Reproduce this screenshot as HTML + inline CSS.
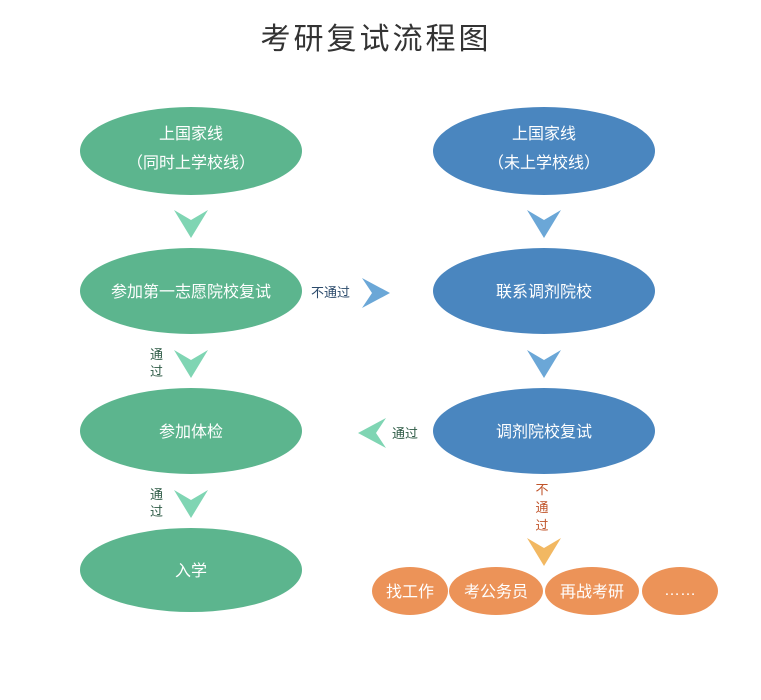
<!DOCTYPE html>
<html><head><meta charset="utf-8"><style>
body{margin:0;background:#fff;width:761px;height:695px;overflow:hidden}
svg text{font-family:"Liberation Sans","Noto Sans CJK SC",sans-serif}
</style></head><body>
<svg width="761" height="695" viewBox="0 0 761 695">
<text x="376" y="49" font-size="30" fill="#333" text-anchor="middle" letter-spacing="3">考研复试流程图</text>
<g fill="#5cb58e">
<ellipse cx="191" cy="151" rx="111" ry="44"/>
<ellipse cx="191" cy="291" rx="111" ry="43"/>
<ellipse cx="191" cy="431" rx="111" ry="43"/>
<ellipse cx="191" cy="570" rx="111" ry="42"/>
</g>
<g fill="#4a86bf">
<ellipse cx="544" cy="151" rx="111" ry="44"/>
<ellipse cx="544" cy="291" rx="111" ry="43"/>
<ellipse cx="544" cy="431" rx="111" ry="43"/>
</g>
<g fill="#ec9358">
<ellipse cx="410" cy="591" rx="38" ry="24"/>
<ellipse cx="496" cy="591" rx="47" ry="24"/>
<ellipse cx="592" cy="591" rx="47" ry="24"/>
<ellipse cx="680" cy="591" rx="38" ry="24"/>
</g>
<g fill="#fff" font-size="16" text-anchor="middle">
<text x="191" y="139">上国家线</text>
<text x="191" y="168">（同时上学校线）</text>
<text x="191" y="297">参加第一志愿院校复试</text>
<text x="191" y="437">参加体检</text>
<text x="191" y="576">入学</text>
<text x="544" y="139">上国家线</text>
<text x="544" y="168">（未上学校线）</text>
<text x="544" y="297">联系调剂院校</text>
<text x="544" y="437">调剂院校复试</text>
<text x="410" y="597">找工作</text>
<text x="496" y="597">考公务员</text>
<text x="592" y="597">再战考研</text>
<text x="680" y="595">……</text>
</g>
<g fill="#7fd5b3">
<polygon points="174,210 191,220 208,210 191,238"/>
<polygon points="174,350 191,360 208,350 191,378"/>
<polygon points="174,490 191,500 208,490 191,518"/>
<polygon points="386,418 376,433 386,448 358,433"/>
</g>
<g fill="#6ba7d7">
<polygon points="527,210 544,220 561,210 544,238"/>
<polygon points="527,350 544,360 561,350 544,378"/>
<polygon points="362,278 372,293 362,308 390,293"/>
</g>
<polygon points="527,538 544,548 561,538 544,566" fill="#f2b862"/>
<g font-size="13" fill="#2d5a45">
<text x="150" y="359">通</text><text x="150" y="376">过</text>
<text x="150" y="499">通</text><text x="150" y="516">过</text>
<text x="392" y="438">通过</text>
</g>
<text x="311" y="297" font-size="13" fill="#2b4a6b">不通过</text>
<g font-size="13" fill="#c0542a" text-anchor="middle">
<text x="542" y="494">不</text><text x="542" y="512">通</text><text x="542" y="530">过</text>
</g>
</svg>
</body></html>
